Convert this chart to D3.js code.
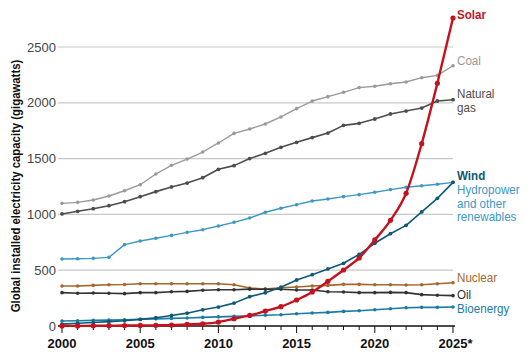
<!DOCTYPE html>
<html>
<head>
<meta charset="utf-8">
<script src="https://cdn.jsdelivr.net/npm/d3@7"></script>
<style>
  html, body { margin: 0; padding: 0; background: #fff; }
  svg { display: block; }
  text { font-family: "Liberation Sans", Arial, sans-serif; }
</style>
</head>
<body>
<svg id="chart" width="530" height="358"></svg>
<script>
const years = [2000,2001,2002,2003,2004,2005,2006,2007,2008,2009,2010,2011,2012,2013,2014,2015,2016,2017,2018,2019,2020,2021,2022,2023,2024,2025];
const coal    = [1099,1108,1129,1165,1212,1266,1362,1440,1496,1559,1640,1726,1765,1810,1873,1948,2016,2055,2094,2136,2148,2171,2186,2225,2246,2332];
const gas     = [1004,1028,1051,1078,1114,1159,1204,1246,1281,1329,1404,1437,1500,1547,1601,1646,1688,1729,1798,1816,1855,1900,1926,1953,2016,2028];
const hydro   = [600,603,606,615,729,762,786,812,839,863,896,929,968,1019,1055,1087,1120,1138,1159,1177,1198,1222,1243,1257,1270,1287];
const nuclear = [358,358,364,370,372,379,379,379,379,379,379,370,340,332,343,350,358,364,373,373,370,370,367,370,379,388];
const oil     = [299,293,296,293,290,299,299,307,310,320,325,325,330,329,329,323,323,307,305,299,299,301,299,281,275,272];
const bio     = [45,47,50,53,56,60,64,68,72,77,82,86,90,96,101,110,116,122,131,137,146,155,164,167,167,170];
const wind    = [17,24,31,39,47,59,74,94,115,145,170,205,263,298,347,412,460,511,562,642,741,827,902,1022,1144,1287];
const solar   = [1,1,2,3,4,5,6,8,14,20,35,65,95,134,173,233,305,400,502,610,771,947,1189,1634,2175,2760];
const yTicks  = [0,500,1000,1500,2000,2500];
const xLabels = [2000,2005,2010,2015,2020,2025];

const series = [
  {name:"Coal", values:coal, color:"#9a9a9a", w:1.4, r:1.8},
  {name:"Natural gas", values:gas, color:"#4d4d4d", w:1.6, r:1.9},
  {name:"Hydro", values:hydro, color:"#3d98c4", w:1.4, r:1.8},
  {name:"Nuclear", values:nuclear, color:"#a4672d", w:1.6, r:1.8},
  {name:"Oil", values:oil, color:"#333333", w:1.6, r:1.8},
  {name:"Bioenergy", values:bio, color:"#1b7ca3", w:1.6, r:1.8},
  {name:"Wind", values:wind, color:"#0f5878", w:1.6, r:1.9},
  {name:"Solar", values:solar, color:"#c4121f", w:2.4, r:2.6, smooth:true}
];

const svg = d3.select("#chart");
const x = d3.scaleLinear().domain([2000,2025]).range([62,453]);
const y = d3.scaleLinear().domain([0,2500]).range([326,47]);

// gridlines
svg.append("g").selectAll("line").data(yTicks.filter(d=>d>0)).join("line")
  .attr("x1",58).attr("x2",453).attr("y1",d=>y(d)).attr("y2",d=>y(d))
  .attr("stroke","#c8c8c8").attr("stroke-width",1.2);

// y tick labels
svg.append("g").selectAll("text").data(yTicks).join("text")
  .attr("x",56).attr("y",d=>y(d)).attr("dy","0.35em")
  .attr("text-anchor","end").attr("fill","#444")
  .attr("font-size",13).text(d=>d);

// x axis
const xAxisG = svg.append("g");
xAxisG.append("line").attr("x1",58).attr("x2",455).attr("y1",y(0)).attr("y2",y(0))
  .attr("stroke","#111").attr("stroke-width",1.5);
xAxisG.selectAll("line.tick").data(years).join("line").attr("class","tick")
  .attr("x1",d=>x(d)).attr("x2",d=>x(d)).attr("y1",y(0))
  .attr("y2",d=>y(0)+(d%5===0?7:4))
  .attr("stroke","#111").attr("stroke-width",1);
xAxisG.selectAll("text").data(xLabels).join("text")
  .attr("y",348).attr("font-size",13).attr("font-weight","bold").attr("fill","#111")
  .each(function(d){
    const t = d3.select(this);
    t.text(d);
    const w = this.getComputedTextLength();
    t.attr("x", x(d)-w/2);
    if (d===2025) t.text(d+"*");
  });

// y axis title
svg.append("text")
  .attr("transform","translate(20,186) rotate(-90) scale(0.91,1)")
  .attr("text-anchor","middle").attr("font-size",12.5).attr("font-weight","bold").attr("fill","#111")
  .text("Global installed electricity capacity (gigawatts)");

// lines
const gLines = svg.append("g");
series.forEach(s=>{
  const line = d3.line().x((d,i)=>x(years[i])).y(d=>y(d))
    .curve(s.smooth ? d3.curveMonotoneX : d3.curveLinear);
  gLines.append("path").datum(s.values).attr("d",line)
    .attr("fill","none").attr("stroke",s.color).attr("stroke-width",s.w)
    .attr("stroke-linejoin","round");
  gLines.append("g").selectAll("circle").data(s.values).join("circle")
    .attr("cx",(d,i)=>x(years[i])).attr("cy",d=>y(d)).attr("r",s.r)
    .attr("fill",s.color);
});

// labels
const labels = [
  {lines:["Solar"], color:"#c4121f", bold:true, y:19},
  {lines:["Coal"], color:"#9a9a9a", y:65},
  {lines:["Natural","gas"], color:"#4d4d4d", y:98},
  {lines:["Wind"], color:"#0f5878", bold:true, y:180},
  {lines:["Hydropower","and other","renewables"], color:"#3d98c4", y:194},
  {lines:["Nuclear"], color:"#a4672d", y:282},
  {lines:["Oil"], color:"#333333", y:299},
  {lines:["Bioenergy"], color:"#1b7ca3", y:313}
];
const gLab = svg.append("g");
labels.forEach(l=>{
  l.lines.forEach((ln,i)=>{
    gLab.append("text")
      .attr("transform",`translate(457,${l.y + i*13.5}) scale(0.93,1)`)
      .attr("font-size",12.5).attr("fill",l.color)
      .attr("font-weight", l.bold ? "bold" : "normal")
      .text(ln);
  });
});
</script>
</body>
</html>
